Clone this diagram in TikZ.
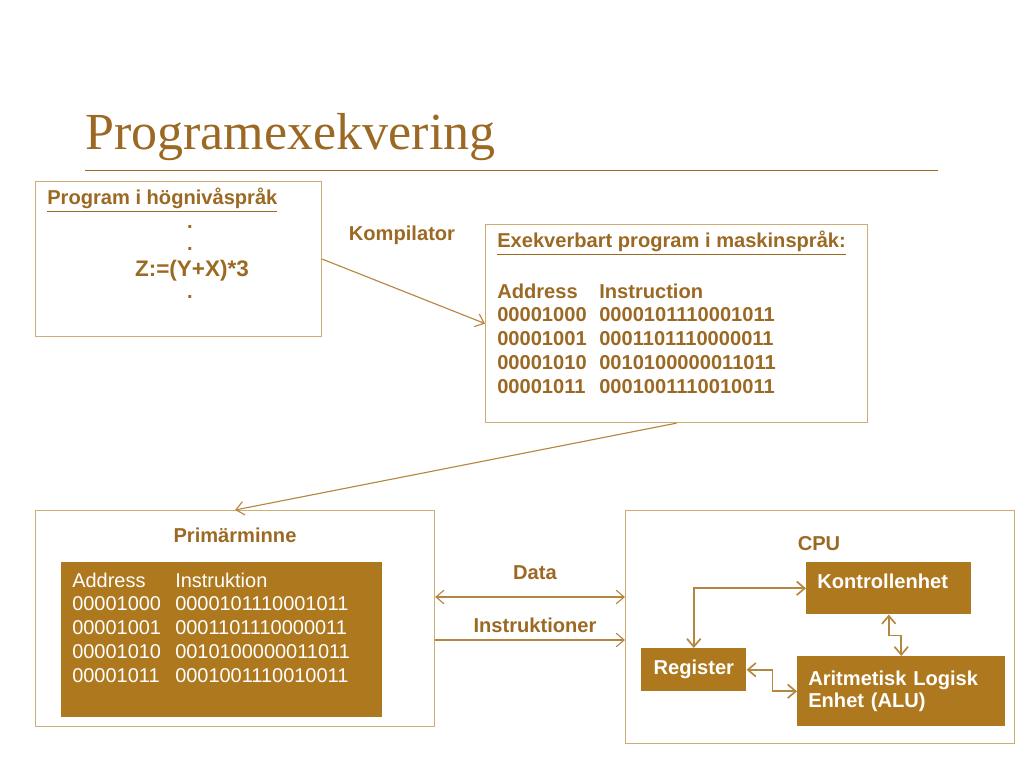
\documentclass[tikz,border=0pt]{standalone}
\usepackage{fontspec}
\setmainfont{Liberation Sans}
\newfontfamily\titlefont{Liberation Serif}
\usetikzlibrary{arrows.meta}
\definecolor{brun}{RGB}{155,105,35}
\definecolor{guld}{RGB}{174,120,30}
\definecolor{kant}{RGB}{205,172,120}
\definecolor{pilfarg}{RGB}{180,135,65}

\begin{document}
\begin{tikzpicture}[
	txt/.style = {font=\fontsize{14.3}{17}\selectfont\bfseries, text=brun, inner sep=0pt},
	vittext/.style = {font=\fontsize{14.3}{16}\selectfont\bfseries, text=white, inner sep=0pt},
	ruta/.style = {draw=kant, line width=0.8pt, anchor=north west, inner sep=0pt},
	fylld/.style = {fill=guld, anchor=north west, inner sep=0pt},
	pil/.style = {draw=pilfarg, line width=0.8pt},
	>={Straight Barb[length=2mm,width=3.4mm]}
	]
	\useasboundingbox (0,0) rectangle (25.6,-19.45);
	%title
	\node [anchor=base west, inner sep=0pt, text=brun, font=\titlefont\fontsize{37}{40}\selectfont] (titel) at (2.125,-3.725){Programexekvering};
	\draw [brun, line width=0.7pt] (2.125,-4.25) -- (23.45,-4.25);
	
	%high level program
	\node [ruta, minimum width=7.15cm, minimum height=3.875cm] (hog) at (0.875,-4.525){};
	\node [txt, anchor=west] (hogrubrik) at (1.175,-5.0){\underline{Program i högnivåspråk}};
	\node [txt, anchor=base] (punkt1) at (4.75,-5.7){.};
	\node [txt, anchor=base] (punkt2) at (4.75,-6.25){.};
	\node [txt, anchor=base, font=\fontsize{16}{18}\selectfont\bfseries] (sats) at (4.8,-6.9){Z:=(Y+X)*3};
	\node [txt, anchor=base] (punkt3) at (4.75,-7.45){.};
	
	%machine code
	\node [ruta, minimum width=9.55cm, minimum height=4.95cm] (maskin) at (12.125,-5.6){};
	\node [txt, anchor=west] (maskinrubrik) at (12.425,-6.075){\underline{Exekverbart program i maskinspråk:}};
	\node [txt, anchor=base west] (maskintabell) at (12.425,-7.45){%
		\begin{tabular}[t]{@{}p{2.55cm}@{}l@{}}
			Address & Instruction\\
			00001000 & 0000101110001011\\
			00001001 & 0001101110000011\\
			00001010 & 0010100000011011\\
			00001011 & 0001001110010011
		\end{tabular}};
	
	\node [txt] (kompilator) at (10.05,-5.875){Kompilator};
	\draw [pil, ->] (hog.east) -- (maskin.west);
	
	%memory
	\node [ruta, minimum width=9.975cm, minimum height=5.4cm] (minne) at (0.875,-12.75){};
	\node [txt] (minnerubrik) at (5.875,-13.375){Primärminne};
	\node [fylld, minimum width=8.025cm, minimum height=3.875cm] (minnefyll) at (1.525,-14.05){};
	\node [inner sep=0pt, text=white, font=\fontsize{14.2}{17}\selectfont, anchor=base west] (minnetabell) at (1.8,-14.675){%
		\begin{tabular}[t]{@{}p{2.575cm}@{}l@{}}
			Address & Instruktion\\
			00001000 & 0000101110001011\\
			00001001 & 0001101110000011\\
			00001010 & 0010100000011011\\
			00001011 & 0001001110010011
		\end{tabular}};
	\draw [pil, ->] (maskin.south) -- (minne.north);
	
	%cpu
	\node [ruta, minimum width=9.725cm, minimum height=5.825cm] (cpu) at (15.625,-12.75){};
	\node [txt] (cpurubrik) at (20.475,-13.6){CPU};
	\node [fylld, minimum width=4.125cm, minimum height=1.3cm] (kontroll) at (20.15,-14.05){};
	\node [vittext, anchor=west] (kontrolltext) at (20.425,-14.525){Kontrollenhet};
	\node [fylld, vittext, minimum width=2.625cm, minimum height=1.075cm] (register) at (16.025,-16.2){Register};
	\node [fylld, vittext, inner xsep=0.275cm, text width=4.65cm, align=left, minimum height=1.75cm] (alu) at (19.925,-16.4){Aritmetisk Logisk\\Enhet (ALU)};
	
	%buses
	\coordinate (data) at (0,-14.925);
	\coordinate (instr) at (0,-16.0);
	\node [txt] (datatext) at (13.375,-14.325){Data};
	\node [txt] (instrtext) at (13.375,-15.625){Instruktioner};
	\draw [pil, <->] (minne.east |- data) -- (cpu.west |- data);
	\draw [pil, ->] (minne.east |- instr) -- (cpu.west |- instr);
	
	%inside cpu
	\draw [pil, line width=1.2pt, <->] (register.north) |- (kontroll.west);
	\draw [pil, line width=1.2pt, <->] (kontroll.south) -- ++(0,-0.525) -| (alu.north);
	\draw [pil, line width=1.2pt, <->] (register.east) -- ++(0.65,0) |- (alu.west);
\end{tikzpicture}
\end{document}
